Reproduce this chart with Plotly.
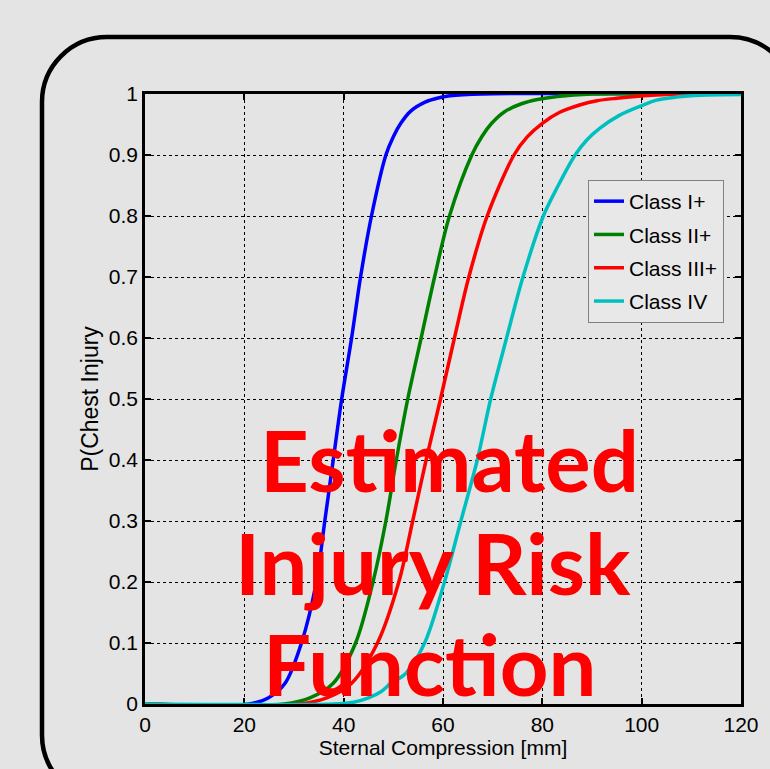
import plotly.graph_objects as go

# ---- data ----
blue_x = [0, 21, 24.8, 28.2, 31.5, 34.5, 36.2, 37.9, 39.6, 41.6, 43.4, 45.6, 48.5, 50.0, 51.5, 53.5, 56.5, 58.8, 61.4, 68, 120]
blue_y = [0, 0, 0.01, 0.034, 0.1, 0.2, 0.3, 0.4, 0.5, 0.6, 0.7, 0.8, 0.9, 0.93, 0.952, 0.972, 0.987, 0.993, 0.997, 1, 1]

green_x = [0, 28, 33.2, 37.9, 42.4, 45.9, 48.5, 50.6, 52.9, 55.6, 58.3, 61.3, 65.8, 67.8, 69.8, 72.4, 75.8, 79.0, 83, 90, 120]
green_y = [0, 0, 0.01, 0.034, 0.1, 0.2, 0.3, 0.4, 0.5, 0.6, 0.7, 0.8, 0.9, 0.93, 0.952, 0.971, 0.984, 0.991, 0.996, 1, 1]

red_x = [0, 31, 36.6, 41.6, 46.8, 51.1, 53.9, 56.6, 59.5, 62.3, 65.2, 68.9, 74.3, 77.0, 80.0, 83.5, 87.5, 91.0, 95, 102, 108, 120]
red_y = [0, 0, 0.01, 0.034, 0.1, 0.2, 0.3, 0.4, 0.5, 0.6, 0.7, 0.8, 0.9, 0.93, 0.952, 0.97, 0.982, 0.989, 0.993, 0.998, 1, 1]

cyan_x = [0, 38, 42, 45, 47.5, 49.5, 52.5, 56.3, 60.3, 63.6, 66.9, 69.6, 72.8, 76.1, 80.2, 83.2, 86.6, 89.0, 91.6, 95.5, 99.7, 103, 107, 112, 120]
cyan_y = [0, 0, 0.003, 0.01, 0.02, 0.034, 0.05, 0.1, 0.2, 0.3, 0.4, 0.5, 0.6, 0.7, 0.8, 0.85, 0.9, 0.925, 0.944, 0.965, 0.98, 0.99, 0.995, 0.998, 0.999]

series_names = ["Class I+", "Class II+", "Class III+", "Class IV"]
series_colors = ["#0000FF", "#008000", "#FF0000", "#00BFBF"]

x_ticks = [0, 20, 40, 60, 80, 100, 120]
y_ticks = [0, 0.1, 0.2, 0.3, 0.4, 0.5, 0.6, 0.7, 0.8, 0.9, 1]
y_tick_labels = ["0", "0.1", "0.2", "0.3", "0.4", "0.5", "0.6", "0.7", "0.8", "0.9", "1"]

overlay_lines = ["Estimated", "Injury Risk", "Function"]

# ---- layout geometry (pixels) ----
W, H = 770, 769
ML, MR, MT, MB = 145, 29, 94, 65
PW = W - ML - MR
PH = H - MT - MB


def X(px):
    return (px - ML) / PW


def Y(py):
    return (H - MB - py) / PH


fig = go.Figure()
all_x = [blue_x, green_x, red_x, cyan_x]
all_y = [blue_y, green_y, red_y, cyan_y]
for i, (xs, ys) in enumerate(zip(all_x, all_y)):
    fig.add_trace(go.Scatter(
        x=xs, y=ys, mode="lines", name=series_names[i],
        legendgroup=f"g{i}",
        line=dict(color=series_colors[i], width=3.5, shape="spline", smoothing=0.9),
    ))

# rounded frame
L, T, R, B, r = 42, 37, 795, 800, 65
k = 0.5523 * r
path = (
    f"M {X(L)},{Y(T + r)} "
    f"C {X(L)},{Y(T + r - k)} {X(L + r - k)},{Y(T)} {X(L + r)},{Y(T)} "
    f"L {X(R - r)},{Y(T)} "
    f"C {X(R - r + k)},{Y(T)} {X(R)},{Y(T + r - k)} {X(R)},{Y(T + r)} "
    f"L {X(R)},{Y(B - r)} "
    f"C {X(R)},{Y(B - r + k)} {X(R - r + k)},{Y(B)} {X(R - r)},{Y(B)} "
    f"L {X(L + r)},{Y(B)} "
    f"C {X(L + r - k)},{Y(B)} {X(L)},{Y(B - r + k)} {X(L)},{Y(B - r)} Z"
)
fig.add_shape(type="path", path=path, xref="paper", yref="paper",
              line=dict(color="black", width=4.5), fillcolor="rgba(0,0,0,0)", layer="below")

# overlay text
ann_pos = [(449, 459), (433, 562), (429, 663)]
for txt, (cx, cy) in zip(overlay_lines, ann_pos):
    fig.add_annotation(text=f"<b>{txt}</b>", x=X(cx), y=Y(cy), xref="paper", yref="paper",
                       xanchor="center", yanchor="middle", showarrow=False,
                       font=dict(family="Lato", size=85, color="#FF0000"))

font_main = "Liberation Sans, Arial, sans-serif"
axis_common = dict(
    showline=True, linecolor="black", linewidth=2.5, mirror="ticks",
    ticks="inside", ticklen=6, tickwidth=2, tickcolor="black",
    showgrid=True, gridcolor="black", gridwidth=1, griddash="dot",
    zeroline=False, layer="below traces",
    tickfont=dict(family=font_main, size=21, color="black"),
)

fig.update_layout(
    width=W, height=H,
    margin=dict(l=ML, r=MR, t=MT, b=MB),
    paper_bgcolor="#E4E4E4", plot_bgcolor="rgba(0,0,0,0)",
    font=dict(family=font_main, size=21, color="black"),
    xaxis=dict(range=[0, 120], tickvals=x_ticks,
               title=dict(text="Sternal Compression [mm]", standoff=6,
                          font=dict(family=font_main, size=21, color="black")),
               **axis_common),
    yaxis=dict(range=[0, 1], tickvals=y_ticks, ticktext=y_tick_labels,
               title=dict(text="P(Chest Injury", standoff=4,
                          font=dict(family=font_main, size=23, color="black")),
               **axis_common),
    legend=dict(x=X(588), y=Y(180), xanchor="left", yanchor="top",
                bgcolor="#E8E8E8", bordercolor="#808080", borderwidth=1,
                font=dict(family=font_main, size=21, color="black"),
                traceorder="grouped", tracegroupgap=3, itemwidth=30),
    showlegend=True,
)

fig.write_html("out.html")
